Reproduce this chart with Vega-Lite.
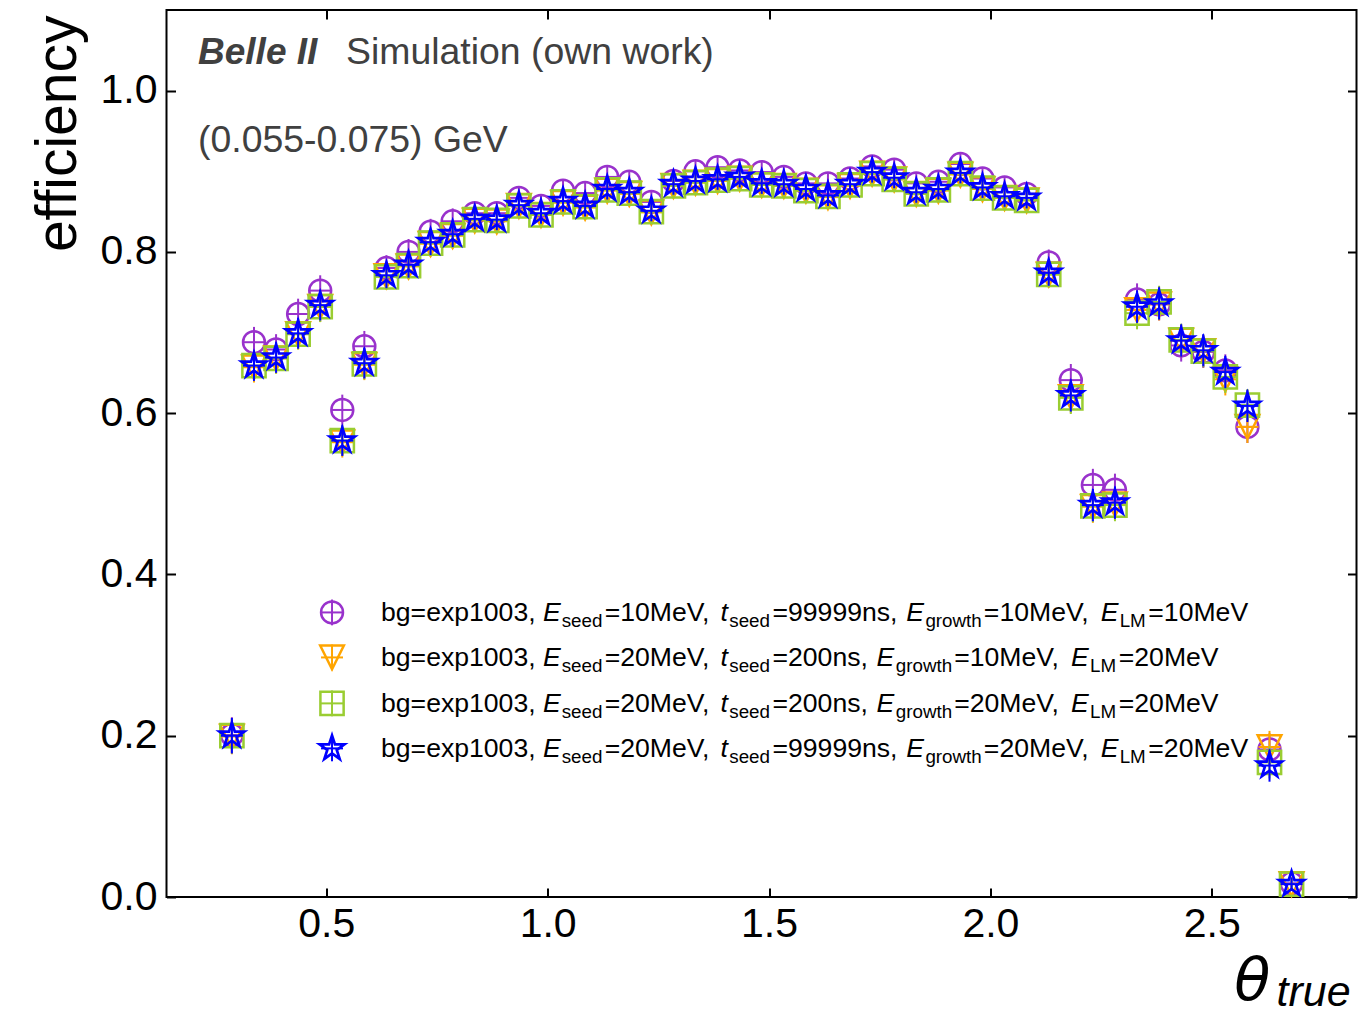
{
"$schema":"https://vega.github.io/schema/vega-lite/v6.json",
"width":1190,"height":887,"autosize":"none",
"padding":{"left":166.5,"top":10,"right":1.5,"bottom":123},
"background":"white",
"config":{
 "view":{"stroke":"black","strokeWidth":2},
 "font":"Liberation Sans",
 "axis":{"grid":false,"domain":false,"tickSize":-9,"tickWidth":2,"tickColor":"black","labelFont":"Liberation Sans","labelFontSize":41,"labelColor":"black","titleFont":"Liberation Sans","titleColor":"black","titleFontWeight":"normal","labelFlush":false,"labelOverlap":false}
},
"datasets":{
"pts":[
{"s":1,"x":0.2867,"y":0.201,"e":0.022},{"s":2,"x":0.2867,"y":0.199,"e":0.022},{"s":3,"x":0.2867,"y":0.200,"e":0.022},{"s":4,"x":0.2867,"y":0.200,"e":0.022},
{"s":1,"x":0.3366,"y":0.688,"e":0.019},{"s":2,"x":0.3366,"y":0.657,"e":0.019},{"s":3,"x":0.3366,"y":0.659,"e":0.019},{"s":4,"x":0.3366,"y":0.659,"e":0.019},
{"s":1,"x":0.3865,"y":0.679,"e":0.019},{"s":2,"x":0.3865,"y":0.668,"e":0.019},{"s":3,"x":0.3865,"y":0.668,"e":0.019},{"s":4,"x":0.3865,"y":0.669,"e":0.019},
{"s":1,"x":0.4363,"y":0.723,"e":0.019},{"s":2,"x":0.4363,"y":0.698,"e":0.019},{"s":3,"x":0.4363,"y":0.698,"e":0.019},{"s":4,"x":0.4363,"y":0.699,"e":0.019},
{"s":1,"x":0.4862,"y":0.752,"e":0.019},{"s":2,"x":0.4862,"y":0.732,"e":0.019},{"s":3,"x":0.4862,"y":0.732,"e":0.019},{"s":4,"x":0.4862,"y":0.734,"e":0.019},
{"s":1,"x":0.5361,"y":0.604,"e":0.019},{"s":2,"x":0.5361,"y":0.564,"e":0.019},{"s":3,"x":0.5361,"y":0.566,"e":0.019},{"s":4,"x":0.5361,"y":0.566,"e":0.019},
{"s":1,"x":0.5859,"y":0.683,"e":0.019},{"s":2,"x":0.5859,"y":0.660,"e":0.019},{"s":3,"x":0.5859,"y":0.661,"e":0.019},{"s":4,"x":0.5859,"y":0.662,"e":0.019},
{"s":1,"x":0.6358,"y":0.780,"e":0.016},{"s":2,"x":0.6358,"y":0.770,"e":0.016},{"s":3,"x":0.6358,"y":0.769,"e":0.016},{"s":4,"x":0.6358,"y":0.771,"e":0.016},
{"s":1,"x":0.6857,"y":0.800,"e":0.016},{"s":2,"x":0.6857,"y":0.782,"e":0.016},{"s":3,"x":0.6857,"y":0.783,"e":0.016},{"s":4,"x":0.6857,"y":0.784,"e":0.016},
{"s":1,"x":0.7355,"y":0.825,"e":0.016},{"s":2,"x":0.7355,"y":0.810,"e":0.016},{"s":3,"x":0.7355,"y":0.811,"e":0.016},{"s":4,"x":0.7355,"y":0.812,"e":0.016},
{"s":1,"x":0.7854,"y":0.838,"e":0.016},{"s":2,"x":0.7854,"y":0.820,"e":0.016},{"s":3,"x":0.7854,"y":0.821,"e":0.016},{"s":4,"x":0.7854,"y":0.822,"e":0.016},
{"s":1,"x":0.8353,"y":0.848,"e":0.013},{"s":2,"x":0.8353,"y":0.839,"e":0.013},{"s":3,"x":0.8353,"y":0.840,"e":0.013},{"s":4,"x":0.8353,"y":0.841,"e":0.013},
{"s":1,"x":0.8851,"y":0.848,"e":0.013},{"s":2,"x":0.8851,"y":0.838,"e":0.013},{"s":3,"x":0.8851,"y":0.839,"e":0.013},{"s":4,"x":0.8851,"y":0.840,"e":0.013},
{"s":1,"x":0.9350,"y":0.867,"e":0.013},{"s":2,"x":0.9350,"y":0.857,"e":0.013},{"s":3,"x":0.9350,"y":0.857,"e":0.013},{"s":4,"x":0.9350,"y":0.858,"e":0.013},
{"s":1,"x":0.9849,"y":0.857,"e":0.013},{"s":2,"x":0.9849,"y":0.846,"e":0.013},{"s":3,"x":0.9849,"y":0.846,"e":0.013},{"s":4,"x":0.9849,"y":0.848,"e":0.013},
{"s":1,"x":1.0347,"y":0.876,"e":0.013},{"s":2,"x":1.0347,"y":0.861,"e":0.013},{"s":3,"x":1.0347,"y":0.862,"e":0.013},{"s":4,"x":1.0347,"y":0.863,"e":0.013},
{"s":1,"x":1.0846,"y":0.873,"e":0.013},{"s":2,"x":1.0846,"y":0.855,"e":0.013},{"s":3,"x":1.0846,"y":0.856,"e":0.013},{"s":4,"x":1.0846,"y":0.857,"e":0.013},
{"s":1,"x":1.1345,"y":0.893,"e":0.013},{"s":2,"x":1.1345,"y":0.876,"e":0.013},{"s":3,"x":1.1345,"y":0.877,"e":0.013},{"s":4,"x":1.1345,"y":0.878,"e":0.013},
{"s":1,"x":1.1843,"y":0.887,"e":0.013},{"s":2,"x":1.1843,"y":0.872,"e":0.013},{"s":3,"x":1.1843,"y":0.873,"e":0.013},{"s":4,"x":1.1843,"y":0.874,"e":0.013},
{"s":1,"x":1.2342,"y":0.862,"e":0.013},{"s":2,"x":1.2342,"y":0.849,"e":0.013},{"s":3,"x":1.2342,"y":0.850,"e":0.013},{"s":4,"x":1.2342,"y":0.851,"e":0.013},
{"s":1,"x":1.2841,"y":0.888,"e":0.013},{"s":2,"x":1.2841,"y":0.882,"e":0.013},{"s":3,"x":1.2841,"y":0.882,"e":0.013},{"s":4,"x":1.2841,"y":0.884,"e":0.013},
{"s":1,"x":1.3339,"y":0.900,"e":0.013},{"s":2,"x":1.3339,"y":0.886,"e":0.013},{"s":3,"x":1.3339,"y":0.886,"e":0.013},{"s":4,"x":1.3339,"y":0.888,"e":0.013},
{"s":1,"x":1.3838,"y":0.905,"e":0.013},{"s":2,"x":1.3838,"y":0.888,"e":0.013},{"s":3,"x":1.3838,"y":0.889,"e":0.013},{"s":4,"x":1.3838,"y":0.890,"e":0.013},
{"s":1,"x":1.4337,"y":0.901,"e":0.013},{"s":2,"x":1.4337,"y":0.891,"e":0.013},{"s":3,"x":1.4337,"y":0.891,"e":0.013},{"s":4,"x":1.4337,"y":0.893,"e":0.013},
{"s":1,"x":1.4835,"y":0.899,"e":0.013},{"s":2,"x":1.4835,"y":0.883,"e":0.013},{"s":3,"x":1.4835,"y":0.883,"e":0.013},{"s":4,"x":1.4835,"y":0.885,"e":0.013},
{"s":1,"x":1.5334,"y":0.893,"e":0.013},{"s":2,"x":1.5334,"y":0.882,"e":0.013},{"s":3,"x":1.5334,"y":0.882,"e":0.013},{"s":4,"x":1.5334,"y":0.884,"e":0.013},
{"s":1,"x":1.5833,"y":0.885,"e":0.013},{"s":2,"x":1.5833,"y":0.876,"e":0.013},{"s":3,"x":1.5833,"y":0.876,"e":0.013},{"s":4,"x":1.5833,"y":0.878,"e":0.013},
{"s":1,"x":1.6331,"y":0.885,"e":0.013},{"s":2,"x":1.6331,"y":0.868,"e":0.013},{"s":3,"x":1.6331,"y":0.869,"e":0.013},{"s":4,"x":1.6331,"y":0.870,"e":0.013},
{"s":1,"x":1.6830,"y":0.891,"e":0.013},{"s":2,"x":1.6830,"y":0.882,"e":0.013},{"s":3,"x":1.6830,"y":0.883,"e":0.013},{"s":4,"x":1.6830,"y":0.884,"e":0.013},
{"s":1,"x":1.7329,"y":0.906,"e":0.013},{"s":2,"x":1.7329,"y":0.897,"e":0.013},{"s":3,"x":1.7329,"y":0.897,"e":0.013},{"s":4,"x":1.7329,"y":0.899,"e":0.013},
{"s":1,"x":1.7827,"y":0.902,"e":0.013},{"s":2,"x":1.7827,"y":0.890,"e":0.013},{"s":3,"x":1.7827,"y":0.890,"e":0.013},{"s":4,"x":1.7827,"y":0.892,"e":0.013},
{"s":1,"x":1.8326,"y":0.885,"e":0.013},{"s":2,"x":1.8326,"y":0.872,"e":0.013},{"s":3,"x":1.8326,"y":0.872,"e":0.013},{"s":4,"x":1.8326,"y":0.874,"e":0.013},
{"s":1,"x":1.8825,"y":0.887,"e":0.013},{"s":2,"x":1.8825,"y":0.876,"e":0.013},{"s":3,"x":1.8825,"y":0.877,"e":0.013},{"s":4,"x":1.8825,"y":0.878,"e":0.013},
{"s":1,"x":1.9323,"y":0.909,"e":0.013},{"s":2,"x":1.9323,"y":0.896,"e":0.013},{"s":3,"x":1.9323,"y":0.897,"e":0.013},{"s":4,"x":1.9323,"y":0.898,"e":0.013},
{"s":1,"x":1.9822,"y":0.891,"e":0.013},{"s":2,"x":1.9822,"y":0.878,"e":0.013},{"s":3,"x":1.9822,"y":0.879,"e":0.013},{"s":4,"x":1.9822,"y":0.880,"e":0.013},
{"s":1,"x":2.0321,"y":0.880,"e":0.013},{"s":2,"x":2.0321,"y":0.867,"e":0.013},{"s":3,"x":2.0321,"y":0.867,"e":0.013},{"s":4,"x":2.0321,"y":0.869,"e":0.013},
{"s":1,"x":2.0819,"y":0.872,"e":0.013},{"s":2,"x":2.0819,"y":0.864,"e":0.013},{"s":3,"x":2.0819,"y":0.864,"e":0.013},{"s":4,"x":2.0819,"y":0.867,"e":0.013},
{"s":1,"x":2.1318,"y":0.787,"e":0.016},{"s":2,"x":2.1318,"y":0.772,"e":0.016},{"s":3,"x":2.1318,"y":0.772,"e":0.016},{"s":4,"x":2.1318,"y":0.774,"e":0.016},
{"s":1,"x":2.1817,"y":0.641,"e":0.02},{"s":2,"x":2.1817,"y":0.620,"e":0.02},{"s":3,"x":2.1817,"y":0.619,"e":0.02},{"s":4,"x":2.1817,"y":0.622,"e":0.02},
{"s":1,"x":2.2315,"y":0.511,"e":0.02},{"s":2,"x":2.2315,"y":0.484,"e":0.02},{"s":3,"x":2.2315,"y":0.485,"e":0.02},{"s":4,"x":2.2315,"y":0.486,"e":0.02},
{"s":1,"x":2.2814,"y":0.505,"e":0.02},{"s":2,"x":2.2814,"y":0.487,"e":0.02},{"s":3,"x":2.2814,"y":0.486,"e":0.02},{"s":4,"x":2.2814,"y":0.489,"e":0.02},
{"s":1,"x":2.3313,"y":0.741,"e":0.02},{"s":2,"x":2.3313,"y":0.728,"e":0.02},{"s":3,"x":2.3313,"y":0.724,"e":0.02},{"s":4,"x":2.3313,"y":0.732,"e":0.02},
{"s":1,"x":2.3811,"y":0.735,"e":0.02},{"s":2,"x":2.3811,"y":0.735,"e":0.02},{"s":3,"x":2.3811,"y":0.738,"e":0.02},{"s":4,"x":2.3811,"y":0.736,"e":0.02},
{"s":1,"x":2.4310,"y":0.684,"e":0.02},{"s":2,"x":2.4310,"y":0.690,"e":0.02},{"s":3,"x":2.4310,"y":0.691,"e":0.02},{"s":4,"x":2.4310,"y":0.690,"e":0.02},
{"s":1,"x":2.4809,"y":0.676,"e":0.02},{"s":2,"x":2.4809,"y":0.677,"e":0.02},{"s":3,"x":2.4809,"y":0.677,"e":0.02},{"s":4,"x":2.4809,"y":0.678,"e":0.02},
{"s":1,"x":2.5307,"y":0.653,"e":0.02},{"s":2,"x":2.5307,"y":0.642,"e":0.02},{"s":3,"x":2.5307,"y":0.645,"e":0.02},{"s":4,"x":2.5307,"y":0.651,"e":0.02},
{"s":1,"x":2.5806,"y":0.583,"e":0.02},{"s":2,"x":2.5806,"y":0.583,"e":0.02},{"s":3,"x":2.5806,"y":0.610,"e":0.02},{"s":4,"x":2.5806,"y":0.609,"e":0.02},
{"s":1,"x":2.6305,"y":0.183,"e":0.02},{"s":2,"x":2.6305,"y":0.186,"e":0.02},{"s":3,"x":2.6305,"y":0.167,"e":0.02},{"s":4,"x":2.6305,"y":0.163,"e":0.02},
{"s":1,"x":2.6803,"y":0.017,"e":0.008},{"s":2,"x":2.6803,"y":0.016,"e":0.008},{"s":3,"x":2.6803,"y":0.016,"e":0.008},{"s":4,"x":2.6803,"y":0.016,"e":0.008}
],
"legend":[
{"s":1,"x":0.5129,"y":0.3529,"e":0.016},{"s":2,"x":0.5129,"y":0.2971,"e":0.016},{"s":3,"x":0.5129,"y":0.2401,"e":0.016},{"s":4,"x":0.5129,"y":0.1843,"e":0.016}
],
"legnorm":[
{"t":"bg=exp1003,","x":0.6236,"y":0.3529},{"t":"=10MeV,","x":1.1287,"y":0.3529},{"t":"=99999ns,","x":1.5078,"y":0.3529},{"t":"=10MeV,","x":1.9853,"y":0.3529},{"t":"=10MeV","x":2.3568,"y":0.3529},
{"t":"bg=exp1003,","x":0.6236,"y":0.2971},{"t":"=20MeV,","x":1.1287,"y":0.2971},{"t":"=200ns,","x":1.5078,"y":0.2971},{"t":"=10MeV,","x":1.9184,"y":0.2971},{"t":"=20MeV","x":2.2900,"y":0.2971},
{"t":"bg=exp1003,","x":0.6236,"y":0.2401},{"t":"=20MeV,","x":1.1287,"y":0.2401},{"t":"=200ns,","x":1.5078,"y":0.2401},{"t":"=20MeV,","x":1.9184,"y":0.2401},{"t":"=20MeV","x":2.2900,"y":0.2401},
{"t":"bg=exp1003,","x":0.6236,"y":0.1843},{"t":"=20MeV,","x":1.1287,"y":0.1843},{"t":"=99999ns,","x":1.5078,"y":0.1843},{"t":"=20MeV,","x":1.9853,"y":0.1843},{"t":"=20MeV","x":2.3568,"y":0.1843}
],
"legital":[
{"t":"E","x":0.9893,"y":0.3529},{"t":"t","x":1.3906,"y":0.3529},{"t":"E","x":1.8098,"y":0.3529},{"t":"E","x":2.2492,"y":0.3529},
{"t":"E","x":0.9893,"y":0.2971},{"t":"t","x":1.3906,"y":0.2971},{"t":"E","x":1.7430,"y":0.2971},{"t":"E","x":2.1823,"y":0.2971},
{"t":"E","x":0.9893,"y":0.2401},{"t":"t","x":1.3906,"y":0.2401},{"t":"E","x":1.7430,"y":0.2401},{"t":"E","x":2.1823,"y":0.2401},
{"t":"E","x":0.9893,"y":0.1843},{"t":"t","x":1.3906,"y":0.1843},{"t":"E","x":1.8098,"y":0.1843},{"t":"E","x":2.2492,"y":0.1843}
],
"legsub":[
{"t":"seed","x":1.0317,"y":0.3529},{"t":"seed","x":1.4102,"y":0.3529},{"t":"growth","x":1.8532,"y":0.3529},{"t":"LM","x":2.2920,"y":0.3529},
{"t":"seed","x":1.0317,"y":0.2971},{"t":"seed","x":1.4102,"y":0.2971},{"t":"growth","x":1.7864,"y":0.2971},{"t":"LM","x":2.2251,"y":0.2971},
{"t":"seed","x":1.0317,"y":0.2401},{"t":"seed","x":1.4102,"y":0.2401},{"t":"growth","x":1.7864,"y":0.2401},{"t":"LM","x":2.2251,"y":0.2401},
{"t":"seed","x":1.0317,"y":0.1843},{"t":"seed","x":1.4102,"y":0.1843},{"t":"growth","x":1.8532,"y":0.1843},{"t":"LM","x":2.2920,"y":0.1843}
],
"belle":[{"t":"Belle II","x":0.2102,"y":1.0335}],
"notes":[{"t":"Simulation (own work)","x":0.5445,"y":1.0335},{"t":"(0.055-0.075) GeV","x":0.2102,"y":0.9245}],
"theta":[{"t":"θ","x":2.551,"y":-0.128}],
"thsub":[{"t":"true","x":2.6465,"y":-0.128}]
},
"encoding":{
 "x":{"field":"x","type":"quantitative","scale":{"domain":[0.139,2.827],"nice":false,"zero":false},"axis":null},
 "y":{"field":"y","type":"quantitative","scale":{"domain":[0,1.1],"nice":false,"zero":false},"axis":null}
},
"layer":[
{"data":{"name":"pts"},"transform":[{"filter":"datum.s==1"}],"mark":{"type":"errorbar","color":"#9932CC","thickness":2},"encoding":{"yError":{"field":"e"}}},
{"data":{"name":"pts"},"transform":[{"filter":"datum.s==1"}],"mark":{"type":"tick","orient":"horizontal","color":"#9932CC","thickness":2,"size":22,"opacity":1},
 "encoding":{
  "x":{"field":"x","type":"quantitative","scale":{"domain":[0.139,2.827],"nice":false,"zero":false},"axis":{"orient":"bottom","values":[0.5,1,1.5,2,2.5],"format":".1f","title":null,"labelPadding":16}},
  "y":{"field":"y","type":"quantitative","scale":{"domain":[0,1.1],"nice":false,"zero":false},"axis":{"orient":"left","values":[0,0.2,0.4,0.6,0.8,1],"format":".1f","labelPadding":18.5,"title":"efficiency","titleFontSize":57,"titleAngle":270,"titleAlign":"right","titleBaseline":"alphabetic","titleX":-91,"titleY":5}}}},
{"data":{"name":"pts"},"transform":[{"filter":"datum.s==1"}],"mark":{"type":"point","shape":"circle","size":480,"filled":false,"strokeWidth":2.5,"color":"#9932CC","opacity":1},
 "encoding":{
  "x":{"field":"x","type":"quantitative","scale":{"domain":[0.139,2.827],"nice":false,"zero":false},"axis":{"orient":"top","values":[0.5,1,1.5,2,2.5],"labels":false,"title":null}},
  "y":{"field":"y","type":"quantitative","scale":{"domain":[0,1.1],"nice":false,"zero":false},"axis":{"orient":"right","values":[0,0.2,0.4,0.6,0.8,1],"labels":false,"title":null}}}},
{"data":{"name":"pts"},"transform":[{"filter":"datum.s==2"}],"mark":{"type":"errorbar","color":"#FFA500","thickness":2},"encoding":{"yError":{"field":"e"}}},
{"data":{"name":"pts"},"transform":[{"filter":"datum.s==2"}],"mark":{"type":"tick","orient":"horizontal","color":"#FFA500","thickness":2,"size":22,"opacity":1}},
{"data":{"name":"pts"},"transform":[{"filter":"datum.s==2"}],"mark":{"type":"point","shape":"M-1,-1L1,-1L0,1Z","size":560,"filled":false,"strokeWidth":2.5,"color":"#FFA500","opacity":1}},
{"data":{"name":"pts"},"transform":[{"filter":"datum.s==3"}],"mark":{"type":"errorbar","color":"#9ACD32","thickness":2},"encoding":{"yError":{"field":"e"}}},
{"data":{"name":"pts"},"transform":[{"filter":"datum.s==3"}],"mark":{"type":"tick","orient":"horizontal","color":"#9ACD32","thickness":2,"size":22,"opacity":1}},
{"data":{"name":"pts"},"transform":[{"filter":"datum.s==3"}],"mark":{"type":"point","shape":"square","size":540,"filled":false,"strokeWidth":2.5,"color":"#9ACD32","opacity":1}},
{"data":{"name":"pts"},"transform":[{"filter":"datum.s==4"}],"mark":{"type":"errorbar","color":"#0000FF","thickness":2},"encoding":{"yError":{"field":"e"}}},
{"data":{"name":"pts"},"transform":[{"filter":"datum.s==4"}],"mark":{"type":"tick","orient":"horizontal","color":"#0000FF","thickness":2,"size":22,"opacity":1}},
{"data":{"name":"pts"},"transform":[{"filter":"datum.s==4"}],"mark":{"type":"point","shape":"M0,-1L0.2245,-0.309L0.951,-0.309L0.3633,0.118L0.5878,0.809L0,0.382L-0.5878,0.809L-0.3633,0.118L-0.951,-0.309L-0.2245,-0.309Z","size":680,"filled":false,"strokeWidth":2.7,"color":"#0000FF","opacity":1}},
{"data":{"name":"legend"},"transform":[{"filter":"datum.s==1"}],"mark":{"type":"errorbar","color":"#9932CC","thickness":2},"encoding":{"yError":{"field":"e"}}},
{"data":{"name":"legend"},"transform":[{"filter":"datum.s==1"}],"mark":{"type":"tick","orient":"horizontal","color":"#9932CC","thickness":2,"size":22,"opacity":1}},
{"data":{"name":"legend"},"transform":[{"filter":"datum.s==1"}],"mark":{"type":"point","shape":"circle","size":480,"filled":false,"strokeWidth":2.5,"color":"#9932CC","opacity":1}},
{"data":{"name":"legend"},"transform":[{"filter":"datum.s==2"}],"mark":{"type":"errorbar","color":"#FFA500","thickness":2},"encoding":{"yError":{"field":"e"}}},
{"data":{"name":"legend"},"transform":[{"filter":"datum.s==2"}],"mark":{"type":"tick","orient":"horizontal","color":"#FFA500","thickness":2,"size":22,"opacity":1}},
{"data":{"name":"legend"},"transform":[{"filter":"datum.s==2"}],"mark":{"type":"point","shape":"M-1,-1L1,-1L0,1Z","size":560,"filled":false,"strokeWidth":2.5,"color":"#FFA500","opacity":1}},
{"data":{"name":"legend"},"transform":[{"filter":"datum.s==3"}],"mark":{"type":"errorbar","color":"#9ACD32","thickness":2},"encoding":{"yError":{"field":"e"}}},
{"data":{"name":"legend"},"transform":[{"filter":"datum.s==3"}],"mark":{"type":"tick","orient":"horizontal","color":"#9ACD32","thickness":2,"size":22,"opacity":1}},
{"data":{"name":"legend"},"transform":[{"filter":"datum.s==3"}],"mark":{"type":"point","shape":"square","size":540,"filled":false,"strokeWidth":2.5,"color":"#9ACD32","opacity":1}},
{"data":{"name":"legend"},"transform":[{"filter":"datum.s==4"}],"mark":{"type":"errorbar","color":"#0000FF","thickness":2},"encoding":{"yError":{"field":"e"}}},
{"data":{"name":"legend"},"transform":[{"filter":"datum.s==4"}],"mark":{"type":"tick","orient":"horizontal","color":"#0000FF","thickness":2,"size":22,"opacity":1}},
{"data":{"name":"legend"},"transform":[{"filter":"datum.s==4"}],"mark":{"type":"point","shape":"M0,-1L0.2245,-0.309L0.951,-0.309L0.3633,0.118L0.5878,0.809L0,0.382L-0.5878,0.809L-0.3633,0.118L-0.951,-0.309L-0.2245,-0.309Z","size":680,"filled":false,"strokeWidth":2.7,"color":"#0000FF","opacity":1}},
{"data":{"name":"legnorm"},"mark":{"type":"text","font":"Liberation Sans","fontSize":26.6,"align":"left","baseline":"alphabetic","dy":9,"color":"black"},"encoding":{"text":{"field":"t"}}},
{"data":{"name":"legital"},"mark":{"type":"text","font":"Liberation Sans","fontSize":26.6,"fontStyle":"italic","align":"left","baseline":"alphabetic","dy":9,"color":"black"},"encoding":{"text":{"field":"t"}}},
{"data":{"name":"legsub"},"mark":{"type":"text","font":"Liberation Sans","fontSize":18.8,"align":"left","baseline":"alphabetic","dy":15,"color":"black"},"encoding":{"text":{"field":"t"}}},
{"data":{"name":"belle"},"mark":{"type":"text","font":"Liberation Sans","fontSize":37,"fontWeight":"bold","fontStyle":"italic","align":"left","baseline":"alphabetic","color":"#404040"},"encoding":{"text":{"field":"t"}}},
{"data":{"name":"notes"},"mark":{"type":"text","font":"Liberation Sans","fontSize":37.4,"align":"left","baseline":"alphabetic","color":"#404040"},"encoding":{"text":{"field":"t"}}},
{"data":{"name":"theta"},"mark":{"type":"text","font":"DejaVu Sans","fontSize":59,"fontStyle":"italic","align":"left","baseline":"alphabetic","color":"black"},"encoding":{"text":{"field":"t"}}},
{"data":{"name":"thsub"},"mark":{"type":"text","font":"Liberation Sans","fontSize":43,"fontStyle":"italic","align":"left","baseline":"alphabetic","dy":6,"color":"black"},"encoding":{"text":{"field":"t"}}}
],
"resolve":{"axis":{"x":"independent","y":"independent"}}
}
